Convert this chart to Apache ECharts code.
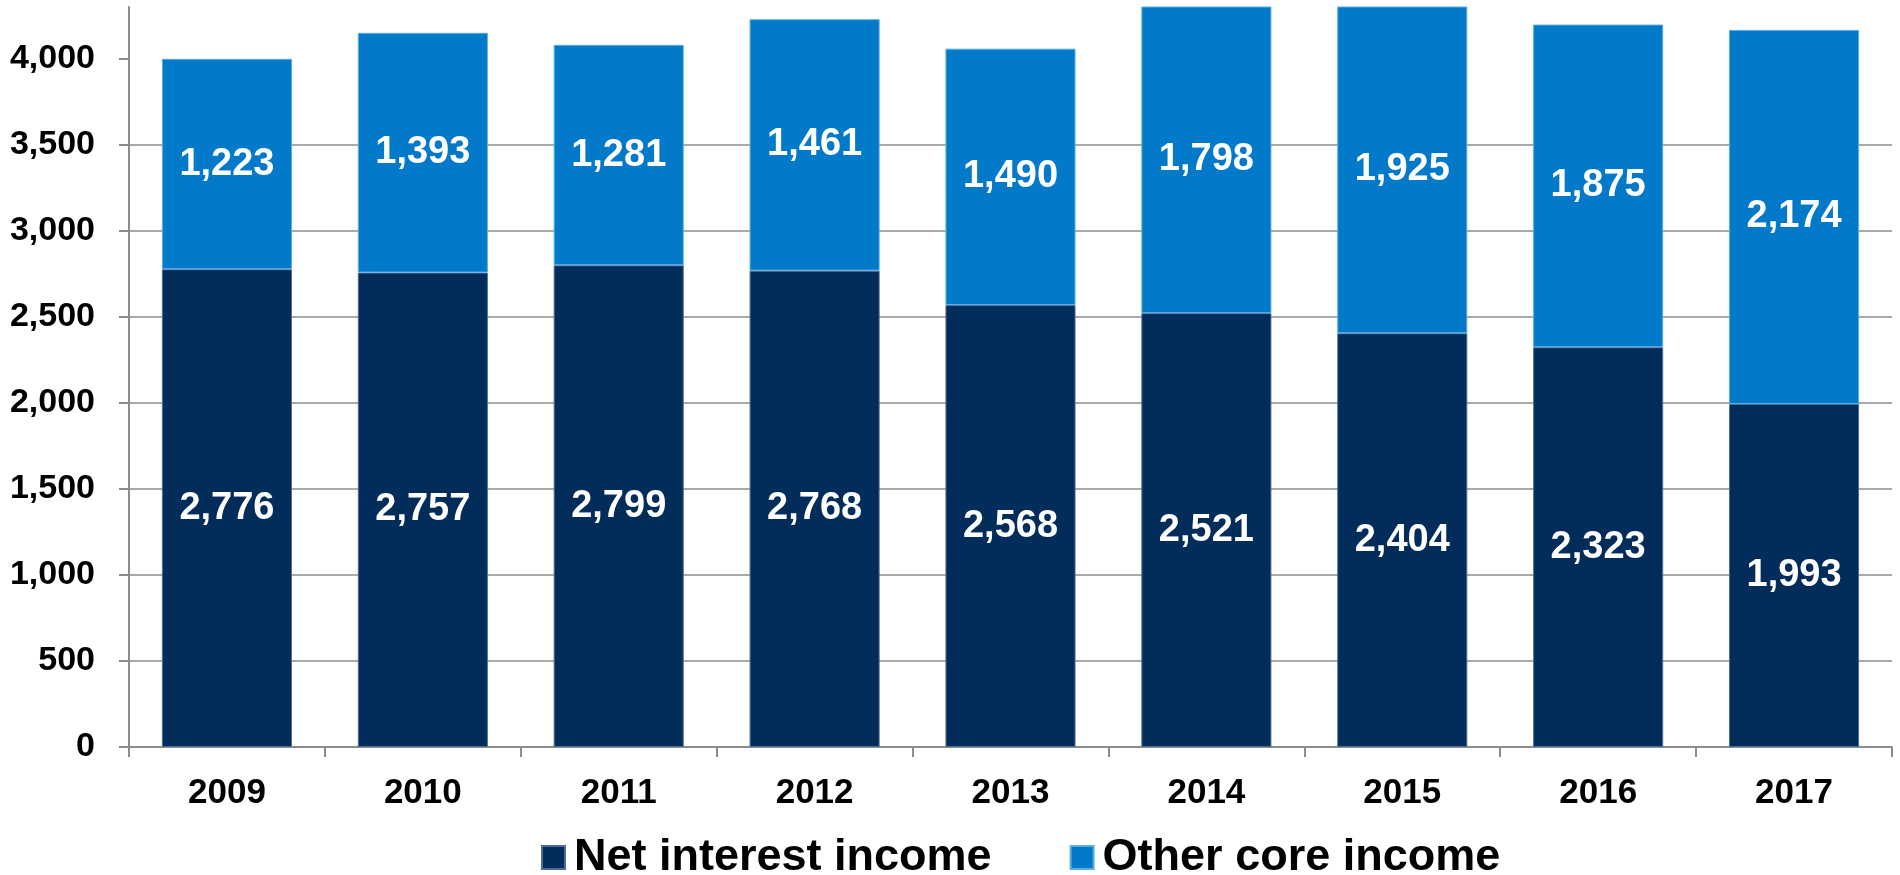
<!DOCTYPE html>
<html>
<head>
<meta charset="utf-8">
<script src="https://cdn.jsdelivr.net/npm/echarts@6/dist/echarts.min.js"></script>
<style>
html,body{margin:0;padding:0;background:#fff;}
#chart{width:1900px;height:875px;}
</style>
</head>
<body>
<div id="chart"></div>
<script>
const categories = ['2009','2010','2011','2012','2013','2014','2015','2016','2017'];
const netInterestIncome = [2776, 2757, 2799, 2768, 2568, 2521, 2404, 2323, 1993];
const otherCoreIncome = [1223, 1393, 1281, 1461, 1490, 1798, 1925, 1875, 2174];
const yTicks = [0, 500, 1000, 1500, 2000, 2500, 3000, 3500, 4000];
const yMax = 4300;

const FONT = '"Liberation Sans", Arial, sans-serif';
const fmt = v => v.toLocaleString('en-US');

const chart = echarts.init(document.getElementById('chart'), null, {renderer: 'canvas'});

const labelStyle = {
  show: true,
  position: 'inside',
  color: '#ffffff',
  fontFamily: FONT,
  fontWeight: 'bold',
  fontSize: 38,
  formatter: p => fmt(p.value)
};

chart.setOption({
  animation: false,
  backgroundColor: '#ffffff',
  grid: {left: 129, right: 8, top: 7, bottom: 128, containLabel: false},
  legend: {
    left: 536,
    top: 830,
    itemWidth: 23,
    itemHeight: 23,
    itemGap: 78,
    icon: 'rect',
    textStyle: {fontFamily: FONT, fontWeight: 'bold', fontSize: 45, color: '#000', padding: [0, 0, 0, 4]},
    data: ['Net interest income', 'Other core income']
  },
  xAxis: {
    type: 'category',
    data: categories,
    boundaryGap: true,
    axisLine: {show: true, lineStyle: {color: '#8c8c8c', width: 2}},
    axisTick: {show: true, length: 10, alignWithLabel: false, lineStyle: {color: '#8c8c8c', width: 2}},
    axisLabel: {fontFamily: FONT, fontWeight: 'bold', fontSize: 35, color: '#000', margin: 29},
    splitLine: {show: false}
  },
  yAxis: {
    type: 'value',
    min: 0,
    max: yMax,
    interval: 500,
    axisLine: {show: true, lineStyle: {color: '#8c8c8c', width: 2}},
    axisTick: {show: true, length: 10, customValues: yTicks, lineStyle: {color: '#8c8c8c', width: 2}},
    axisLabel: {
      customValues: yTicks,
      fontFamily: FONT, fontWeight: 'bold', fontSize: 34, color: '#000', margin: 34,
      formatter: v => fmt(v)
    },
    splitLine: {show: true, showMinLine: false, showMaxLine: false, lineStyle: {color: '#8c8c8c', width: 1.5}}
  },
  series: [
    {
      name: 'Net interest income',
      type: 'bar',
      stack: 'total',
      barCategoryGap: '33.6%',
      clip: true,
      itemStyle: {color: '#022d5b', borderColor: '#4d6d94', borderWidth: 1},
      label: labelStyle,
      data: netInterestIncome
    },
    {
      name: 'Other core income',
      type: 'bar',
      stack: 'total',
      barCategoryGap: '33.6%',
      clip: true,
      itemStyle: {color: '#0279c9', borderColor: '#5aaee6', borderWidth: 1},
      label: labelStyle,
      data: otherCoreIncome
    }
  ]
});
</script>
</body>
</html>
